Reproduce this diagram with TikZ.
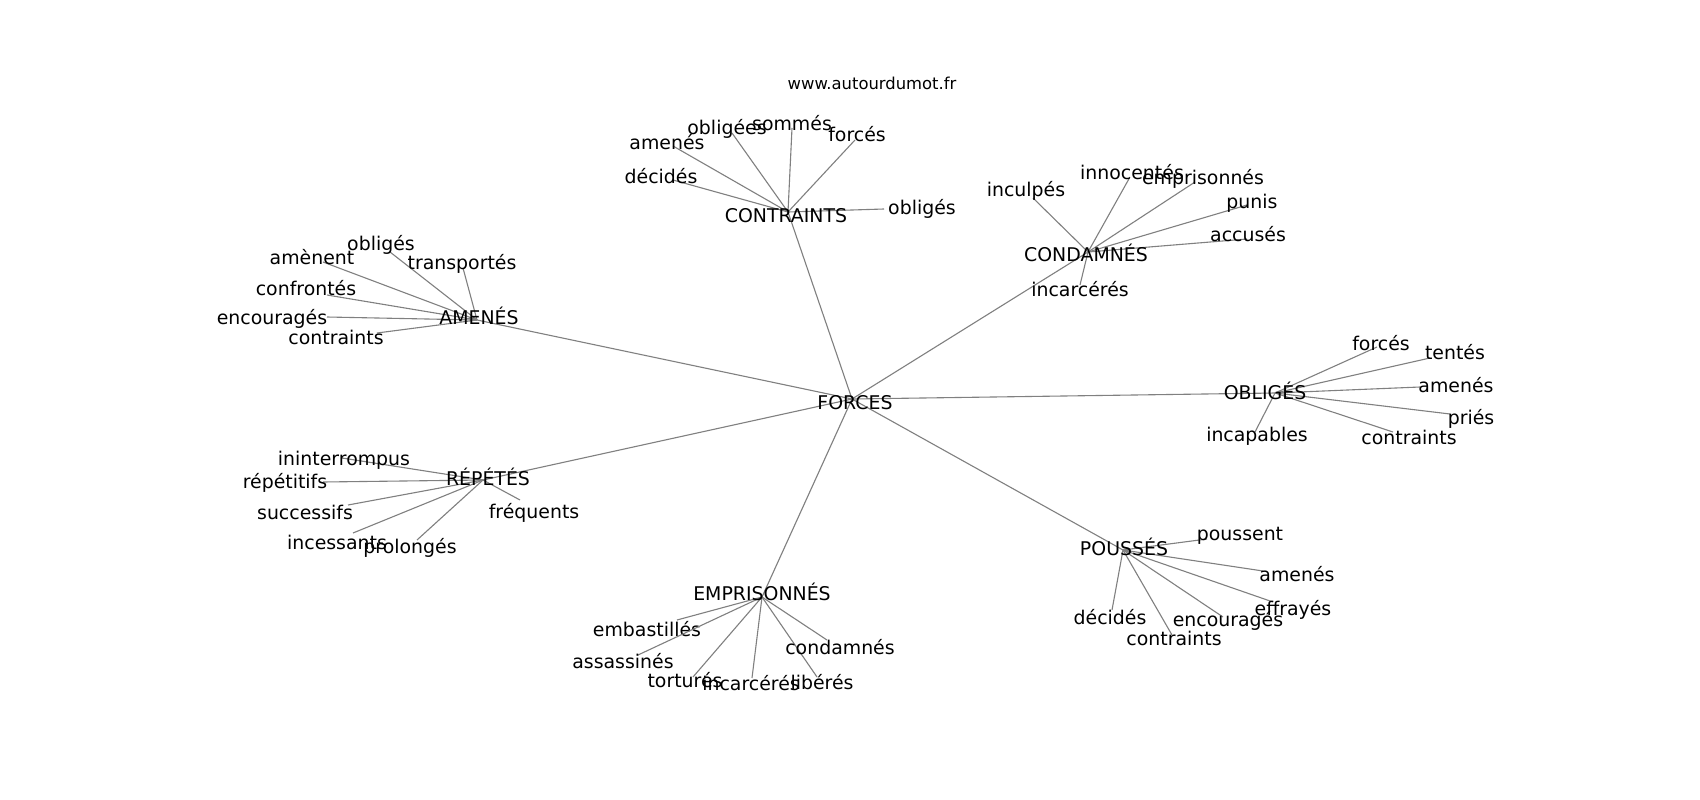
\documentclass[tikz,border=0pt]{standalone}
\usepackage{fontspec}
\setmainfont{DejaVu Sans}
\definecolor{edgegray}{RGB}{128,128,128}
\tikzset{
  lbl/.style={anchor=base, inner sep=0pt, yshift=-7pt, font=\fontsize{18.9}{20}\selectfont, text=black},
  small/.style={anchor=base, inner sep=0pt, yshift=-6pt, font=\fontsize{16.4}{18}\selectfont, text=black},
  edge/.style={draw=edgegray, line width=1.1pt}
}
\newcommand\hubnode[5]{\coordinate (#1) at (#2,#3); \node[lbl] (#1t) at (#4,#5) {#1X};}
\newcommand\leaf[7]{\coordinate (#1) at (#2,#3); \draw[edge] (#7) -- (#1); \node[lbl] (#1t) at (#4,#5) {#6};}
\begin{document}
\begin{tikzpicture}[x=1pt,y=-1pt]
\useasboundingbox (0,0) rectangle (1700,800);
\fill[white] (0,0) rectangle (1700,800);
% hubs
\coordinate (forces) at (852,399);
\coordinate (contraints) at (788,212);
\coordinate (condamnes) at (1088,252);
\coordinate (obliges) at (1275,393);
\coordinate (amenes) at (477,320);
\coordinate (repetes) at (483,480);
\coordinate (empr) at (762,597);
\coordinate (pousses) at (1123,550);
\foreach \h in {contraints,condamnes,obliges,amenes,repetes,empr,pousses}
  \draw[edge] (forces) -- (\h);
% CONTRAINTS leaves
\leaf{c1}{673}{146}{667}{142}{amenés}{contraints}
\leaf{c2}{732}{133}{727}{127}{obligées}{contraints}
\leaf{c3}{792}{128}{792}{123}{sommés}{contraints}
\leaf{c4}{855}{140}{857}{134}{forcés}{contraints}
\leaf{c5}{673}{180}{661}{176}{décidés}{contraints}
\leaf{c6}{884}{209}{922}{207}{obligés}{contraints}
% CONDAMNES leaves
\leaf{d1}{1033}{198}{1026}{189}{inculpés}{condamnes}
\leaf{d2}{1130}{177}{1132}{172}{innocentés}{condamnes}
\leaf{d3}{1195}{182}{1203}{177}{emprisonnés}{condamnes}
\leaf{d4}{1247}{205}{1252}{201}{punis}{condamnes}
\leaf{d5}{1247}{239}{1248}{234}{accusés}{condamnes}
\leaf{d6}{1080}{285}{1080}{289}{incarcérés}{condamnes}
% OBLIGES leaves
\leaf{o1}{1377}{347}{1381}{343}{forcés}{obliges}
\leaf{o2}{1430}{358}{1455}{352}{tentés}{obliges}
\leaf{o3}{1420}{387}{1456}{385}{amenés}{obliges}
\leaf{o4}{1450}{414}{1471}{417}{priés}{obliges}
\leaf{o5}{1393}{432}{1409}{437}{contraints}{obliges}
\leaf{o6}{1255}{432}{1257}{434}{incapables}{obliges}
% AMENES leaves
\leaf{a1}{390}{252}{381}{243}{obligés}{amenes}
\leaf{a2}{323}{262}{312}{257}{amènent}{amenes}
\leaf{a3}{463}{268}{462}{262}{transportés}{amenes}
\leaf{a4}{327}{295}{306}{288}{confrontés}{amenes}
\leaf{a5}{327}{317}{272}{317}{encouragés}{amenes}
\leaf{a6}{377}{333}{336}{337}{contraints}{amenes}
% REPETES leaves
\leaf{r1}{342}{458}{344}{458}{ininterrompus}{repetes}
\leaf{r2}{323}{482}{285}{481}{répétitifs}{repetes}
\leaf{r3}{348}{505}{305}{512}{successifs}{repetes}
\leaf{r4}{353}{533}{337}{542}{incessants}{repetes}
\leaf{r5}{417}{540}{410}{546}{prolongés}{repetes}
\leaf{r6}{520}{500}{534}{511}{fréquents}{repetes}
% EMPRISONNES leaves
\leaf{e1}{677}{620}{647}{629}{embastillés}{empr}
\leaf{e2}{638}{655}{623}{661}{assassinés}{empr}
\leaf{e3}{693}{677}{685}{680}{torturés}{empr}
\leaf{e4}{752}{678}{751}{683}{incarcérés}{empr}
\leaf{e5}{817}{677}{822}{682}{libérés}{empr}
\leaf{e6}{827}{640}{840}{647}{condamnés}{empr}
% POUSSES leaves
\leaf{p1}{1207}{539}{1240}{533}{poussent}{pousses}
\leaf{p2}{1263}{571}{1297}{574}{amenés}{pousses}
\leaf{p3}{1273}{602}{1293}{608}{effrayés}{pousses}
\leaf{p4}{1223}{617}{1228}{619}{encouragés}{pousses}
\leaf{p5}{1172}{635}{1174}{638}{contraints}{pousses}
\leaf{p6}{1112}{610}{1110}{617}{décidés}{pousses}
% hub labels
\node[lbl] (forcest) at (855,402) {FORCES};
\node[lbl] (contraintst) at (786,215) {CONTRAINTS};
\node[lbl] (condamnest) at (1086,254) {CONDAMNÉS};
\node[lbl] (obligest) at (1265,392) {OBLIGÉS};
\node[lbl] (amenest) at (479,317) {AMENÉS};
\node[lbl] (repetest) at (488,478) {RÉPÉTÉS};
\node[lbl] (emprt) at (762,593) {EMPRISONNÉS};
\node[lbl] (poussest) at (1124,548) {POUSSÉS};
\node[small] (site) at (872,83) {www.autourdumot.fr};
\end{tikzpicture}
\end{document}
